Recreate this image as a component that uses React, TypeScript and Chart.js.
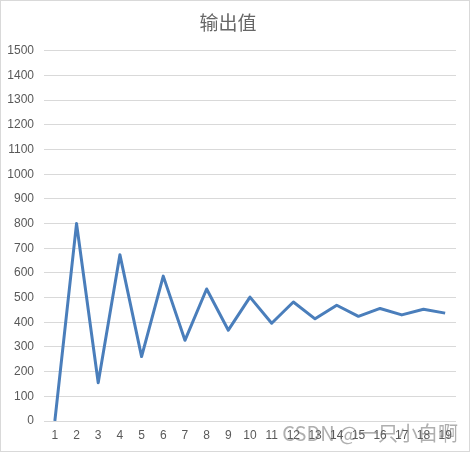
import React, { useEffect, useRef } from "react";
import { Chart, registerables } from "chart.js";

Chart.register(...registerables);

const categories = ["1","2","3","4","5","6","7","8","9","10","11","12","13","14","15","16","17","18","19"];
const outputValues = [0, 800, 155, 674, 261, 587, 327, 535, 368, 502, 396, 482, 414, 469, 424, 456, 430, 453, 437];
const titleText = "输出值";
const watermarkText = "CSDN @一只小白啊";

const framePlugin = {
  id: "frame",
  afterDraw(chart: any) {
    const ctx = chart.ctx;
    ctx.save();
    ctx.strokeStyle = "#d9d9d9";
    ctx.lineWidth = 1;
    ctx.strokeRect(0.5, 0.5, 469, 451);
    ctx.font = '20px "Noto Sans CJK SC", "Noto Sans", sans-serif';
    ctx.fillStyle = "rgba(110,110,110,0.55)";
    ctx.textAlign = "right";
    ctx.textBaseline = "alphabetic";
    ctx.fillText(watermarkText, 458, 441);
    ctx.restore();
  },
};

export default function App() {
  const ref = useRef<HTMLCanvasElement | null>(null);
  useEffect(() => {
    document.body.style.margin = "0";
    if (!ref.current) return;
    const chart = new Chart(ref.current, {
      type: "line",
      data: {
        labels: categories,
        datasets: [
          {
            label: titleText,
            data: outputValues,
            borderColor: "#4a7ebb",
            backgroundColor: "#4a7ebb",
            borderWidth: 3,
            pointRadius: 0,
            tension: 0,
            borderJoinStyle: "round",
          },
        ],
      },
      options: {
        responsive: false,
        animation: false,
        layout: { padding: { top: 0, left: 0, right: 15, bottom: 0 } },
        plugins: {
          legend: { display: false },
          tooltip: { enabled: false },
          title: {
            display: true,
            text: titleText,
            color: "#666666",
            font: { family: '"Noto Sans CJK SC", sans-serif', size: 19, weight: "normal" },
            padding: { top: 11, bottom: 17 },
          },
        },
        scales: {
          x: {
            offset: true,
            grid: { display: false, drawTicks: false },
            border: { display: false },
            ticks: {
              color: "#595959",
              font: { family: '"Liberation Sans", "DejaVu Sans", sans-serif', size: 12 },
              padding: 7,
              autoSkip: false,
              maxRotation: 0,
            },
            afterFit(scale: any) {
              scale.height = 32;
            },
          },
          y: {
            min: 0,
            max: 1500,
            ticks: {
              stepSize: 100,
              color: "#595959",
              font: { family: '"Liberation Sans", "DejaVu Sans", sans-serif', size: 12 },
              padding: 10,
              callback: (v: any) => String(v),
            },
            grid: { color: "#d9d9d9", lineWidth: 1, drawTicks: false },
            border: { display: false },
            afterFit(scale: any) {
              scale.width = 44;
            },
          },
        },
      },
      plugins: [framePlugin],
    });
    return () => chart.destroy();
  }, []);
  return (
    <div style={{ position: "absolute", left: 0, top: 0, width: 471, height: 453 }}>
      <canvas ref={ref} width={471} height={453} style={{ width: 471, height: 453, display: "block" }} />
    </div>
  );
}
